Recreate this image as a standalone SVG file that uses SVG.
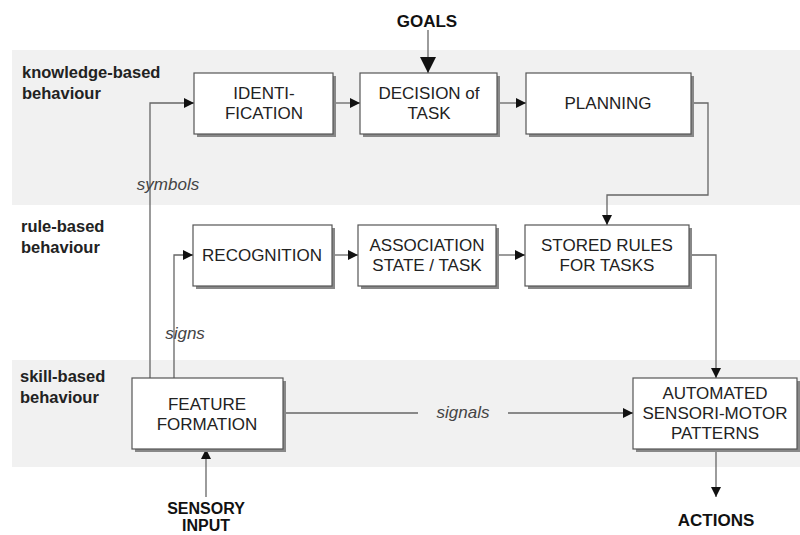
<svg xmlns="http://www.w3.org/2000/svg" width="800" height="535" viewBox="0 0 800 535">
<style>
.band{fill:#f1f1f1}
.lbl{font-family:"Liberation Sans",Arial,sans-serif;font-weight:bold;font-size:16.5px;fill:#222}
.box{fill:#fff;stroke:#555;stroke-width:1.2}
.sh{fill:#888}
.bt{font-family:"Liberation Sans",Arial,sans-serif;font-size:17px;fill:#222;text-anchor:middle}
.it{font-family:"Liberation Sans",Arial,sans-serif;font-style:italic;font-size:17px;fill:#444;text-anchor:middle}
.io{font-family:"Liberation Sans",Arial,sans-serif;font-weight:bold;font-size:17px;fill:#111;text-anchor:middle}
.ln{fill:none;stroke:#666;stroke-width:1.3}
</style>
<defs>
<marker id="ah" viewBox="0 0 10 10" refX="10" refY="5" markerWidth="11" markerHeight="10" markerUnits="userSpaceOnUse" orient="auto">
<path d="M0,0 L10,5 L0,10 Z" fill="#111"/>
</marker>
<marker id="ahb" viewBox="0 0 10 10" refX="10" refY="5" markerWidth="16" markerHeight="16" markerUnits="userSpaceOnUse" orient="auto">
<path d="M0,0 L10,5 L0,10 Z" fill="#111"/>
</marker>
</defs>
<rect width="800" height="535" fill="#fff"/>
<rect class="band" x="12" y="50" width="788" height="155"/>
<rect class="band" x="12" y="360" width="788" height="107"/>

<g id="level-labels">
<text class="lbl" x="22" y="78">knowledge-based</text>
<text class="lbl" x="22" y="99">behaviour</text>
<text class="lbl" x="21" y="232">rule-based</text>
<text class="lbl" x="21" y="253">behaviour</text>
<text class="lbl" x="20" y="382">skill-based</text>
<text class="lbl" x="20" y="403">behaviour</text>
</g>

<g id="connectors">
<line class="ln" x1="428" y1="30" x2="428" y2="73" stroke="#111" stroke-width="2.5" marker-end="url(#ahb)"/>
<line class="ln" x1="333" y1="103" x2="360" y2="103" marker-end="url(#ah)"/>
<line class="ln" x1="497" y1="103" x2="526" y2="103" marker-end="url(#ah)"/>
<polyline class="ln" points="691,103 708,103 708,195 607,195 607,225" marker-end="url(#ah)"/>
<line class="ln" x1="332" y1="255" x2="358" y2="255" marker-end="url(#ah)"/>
<line class="ln" x1="496" y1="255" x2="525" y2="255" marker-end="url(#ah)"/>
<polyline class="ln" points="689,255 716,255 716,378" marker-end="url(#ah)"/>
<polyline class="ln" points="150,378 150,103 194,103" marker-end="url(#ah)"/>
<polyline class="ln" points="174,378 174,255 193,255" marker-end="url(#ah)"/>
<line class="ln" x1="283" y1="413" x2="418" y2="413"/>
<line class="ln" x1="508" y1="413" x2="633" y2="413" marker-end="url(#ah)"/>
<line class="ln" x1="716" y1="449" x2="716" y2="497" marker-end="url(#ah)"/>
<line class="ln" x1="206" y1="497" x2="206" y2="449" marker-end="url(#ah)"/>
<text class="it" x="168" y="190">symbols</text>
<text class="it" x="185" y="339">signs</text>
<text class="it" x="463" y="418">signals</text>
</g>

<g id="goals"><text class="io" x="427" y="27">GOALS</text></g>

<g id="identification">
<rect class="sh" x="197" y="76" width="139" height="61"/>
<rect class="box" x="194" y="73" width="139" height="61"/>
<text class="bt" x="264" y="99">IDENTI-</text>
<text class="bt" x="264" y="119">FICATION</text>
</g>
<g id="decision">
<rect class="sh" x="363" y="76" width="137" height="61"/>
<rect class="box" x="360" y="73" width="137" height="61"/>
<text class="bt" x="429" y="99">DECISION of</text>
<text class="bt" x="429" y="119">TASK</text>
</g>
<g id="planning">
<rect class="sh" x="529" y="76" width="165" height="61"/>
<rect class="box" x="526" y="73" width="165" height="61"/>
<text class="bt" x="608" y="109">PLANNING</text>
</g>

<g id="recognition">
<rect class="sh" x="196" y="228" width="139" height="61"/>
<rect class="box" x="193" y="225" width="139" height="61"/>
<text class="bt" x="262" y="261">RECOGNITION</text>
</g>
<g id="association">
<rect class="sh" x="361" y="228" width="138" height="61"/>
<rect class="box" x="358" y="225" width="138" height="61"/>
<text class="bt" x="427" y="251">ASSOCIATION</text>
<text class="bt" x="427" y="271">STATE / TASK</text>
</g>
<g id="stored-rules">
<rect class="sh" x="528" y="228" width="164" height="61"/>
<rect class="box" x="525" y="225" width="164" height="61"/>
<text class="bt" x="607" y="251">STORED RULES</text>
<text class="bt" x="607" y="271">FOR TASKS</text>
</g>

<g id="feature-formation">
<rect class="sh" x="135" y="381" width="151" height="71"/>
<rect class="box" x="132" y="378" width="151" height="71"/>
<text class="bt" x="207" y="410">FEATURE</text>
<text class="bt" x="207" y="430">FORMATION</text>
</g>
<g id="automated">
<rect class="sh" x="636" y="381" width="164" height="71"/>
<rect class="box" x="633" y="378" width="164" height="71"/>
<text class="bt" x="715" y="399">AUTOMATED</text>
<text class="bt" x="715" y="419">SENSORI-MOTOR</text>
<text class="bt" x="715" y="439">PATTERNS</text>
</g>

<g id="sensory-input">
<text class="io" x="206" y="514" style="font-size:16px">SENSORY</text>
<text class="io" x="206" y="531" style="font-size:16px">INPUT</text>
</g>
<g id="actions"><text class="io" x="716" y="526">ACTIONS</text></g>
</svg>
